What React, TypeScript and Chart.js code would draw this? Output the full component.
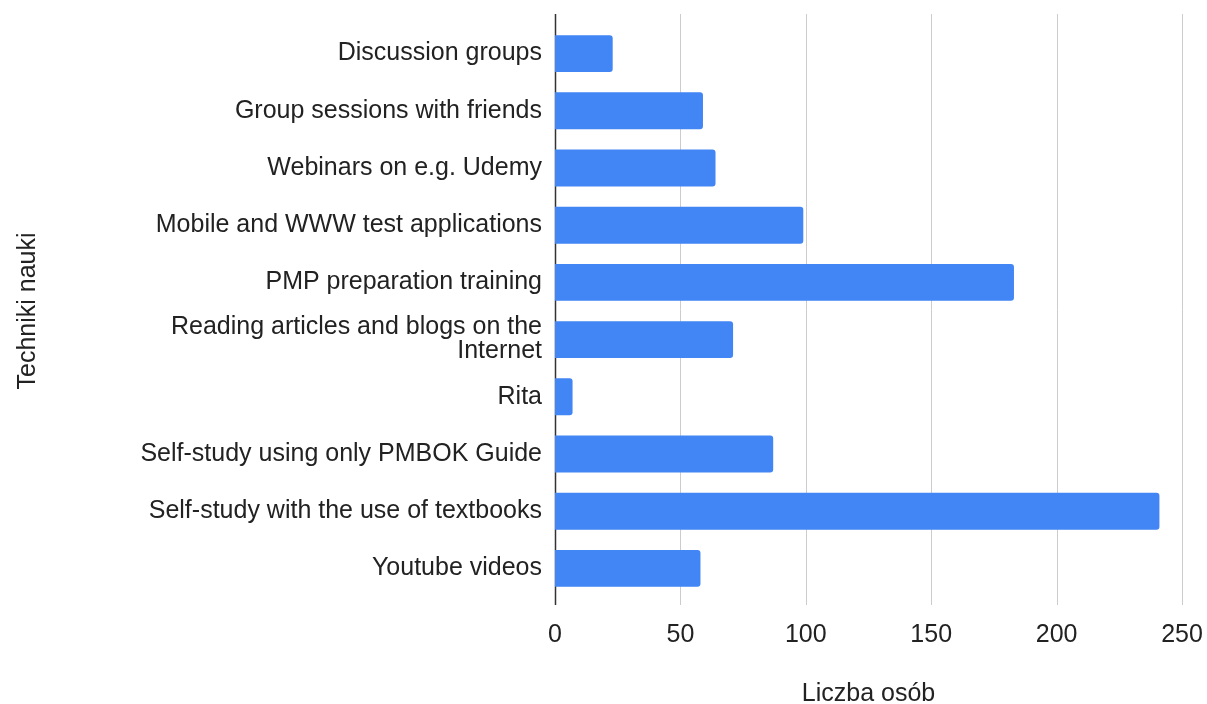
import React, { useEffect, useRef } from "react";
import { Chart, registerables } from "chart.js";

Chart.register(...registerables);

const categories: (string | string[])[] = [
  "Discussion groups",
  "Group sessions with friends",
  "Webinars on e.g. Udemy",
  "Mobile and WWW test applications",
  "PMP preparation training",
  ["Reading articles and blogs on the", "Internet"],
  "Rita",
  "Self-study using only PMBOK Guide",
  "Self-study with the use of textbooks",
  "Youtube videos",
];
const counts = [23, 59, 64, 99, 183, 71, 7, 87, 241, 58];
const xTicks = [0, 50, 100, 150, 200, 250];
const xTitle = "Liczba osób";
const yTitle = "Techniki nauki";

const FONT = "'Liberation Sans', Arial, sans-serif";

const gridPlugin = {
  id: "extendedGrid",
  beforeDatasetsDraw(chart: any) {
    const { ctx, chartArea, scales } = chart;
    const x = scales.x;
    const top = chartArea.top - 11;
    const bottom = chartArea.bottom + 8;
    ctx.save();
    xTicks.forEach((v) => {
      const px = Math.round(x.getPixelForValue(v)) + 0.5;
      ctx.beginPath();
      ctx.strokeStyle = v === 0 ? "#333333" : "#cccccc";
      ctx.lineWidth = v === 0 ? 1.5 : 1;
      ctx.moveTo(px, top);
      ctx.lineTo(px, bottom);
      ctx.stroke();
    });
    ctx.restore();
  },
};

export default function App() {
  const ref = useRef<HTMLCanvasElement>(null);
  useEffect(() => {
    if (!ref.current) return;
    const chart = new Chart(ref.current, {
      type: "bar",
      data: {
        labels: categories,
        datasets: [
          {
            data: counts,
            backgroundColor: "#4285F4",
            borderRadius: 3,
            borderSkipped: "start",
            categoryPercentage: 1,
            barPercentage: 0.645,
          },
        ],
      },
      options: {
        indexAxis: "y",
        animation: false,
        responsive: true,
        maintainAspectRatio: false,
        layout: { padding: { top: 23, right: 25, bottom: 0, left: 0 } },
        plugins: { legend: { display: false }, tooltip: { enabled: false } },
        scales: {
          x: {
            type: "linear",
            min: 0,
            max: 250,
            afterBuildTicks: (scale: any) => {
              scale.ticks = xTicks.map((v) => ({ value: v }));
            },
            afterFit: (scale: any) => {
              scale.height = 107;
              scale.paddingRight = 0;
              scale.paddingLeft = 0;
            },
            grid: { display: false, drawTicks: false },
            border: { display: false },
            ticks: {
              padding: 23,
              color: "#222222",
              font: { family: FONT, size: 25, lineHeight: 1.2 },
            },
            title: {
              display: true,
              text: xTitle,
              color: "#222222",
              font: { family: FONT, size: 25, lineHeight: 0.8 },
              padding: { top: 0, bottom: 0 },
            },
          },
          y: {
            afterFit: (scale: any) => {
              scale.width = 555;
            },
            grid: { display: false, drawTicks: false },
            border: { display: false },
            ticks: {
              padding: 13,
              color: "#222222",
              font: { family: FONT, size: 25, lineHeight: 0.96 },
            },
            title: {
              display: true,
              text: yTitle,
              color: "#222222",
              font: { family: FONT, size: 25, lineHeight: 1.2 },
              padding: { top: 13, bottom: 0 },
            },
          },
        },
      },
      plugins: [gridPlugin],
    });
    return () => chart.destroy();
  }, []);
  return (
    <div style={{ position: "fixed", left: 0, top: 0, width: 1207, height: 704, background: "#fff" }}>
      <canvas ref={ref} />
    </div>
  );
}
